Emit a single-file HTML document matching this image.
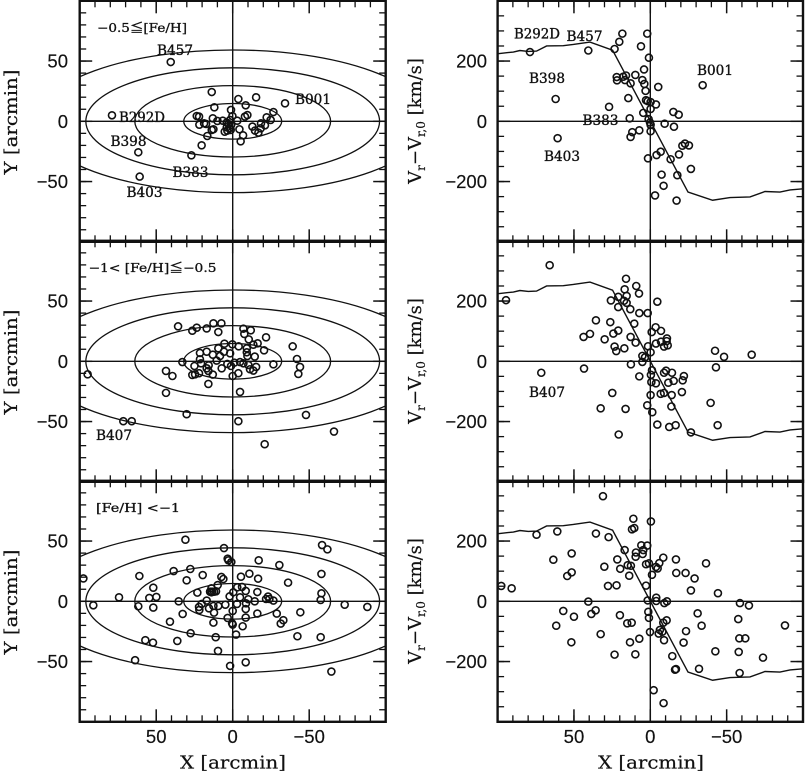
<!DOCTYPE html>
<html lang="en">
<head>
<meta charset="utf-8">
<title>Globular cluster positions and velocities</title>
<style>
html,body{margin:0;padding:0;background:#fff;}
svg{display:block;}
.tick-label{font-family:"Liberation Sans",sans-serif;font-size:18.5px;fill:#111;stroke:#111;stroke-width:.15px;}
.axis-title{font-family:"DejaVu Serif","Liberation Serif",serif;font-size:18px;fill:#111;stroke:#111;stroke-width:.2px;}
.note{font-family:"DejaVu Serif","Liberation Serif",serif;font-size:13.5px;fill:#111;stroke:#111;stroke-width:.35px;}
.bin{font-family:"DejaVu Serif","Liberation Serif","Noto Sans CJK JP",serif;font-size:12px;fill:#111;stroke:#111;stroke-width:.3px;}
</style>
</head>
<body>
<svg id="chart" xmlns="http://www.w3.org/2000/svg" width="805" height="774" viewBox="0 0 805 774">
<rect width="805" height="774" fill="#fff"/>
<g id="marks"></g>

<text class="axis-title" transform="translate(17,122) rotate(-90)" text-anchor="middle" textLength="105" lengthAdjust="spacingAndGlyphs">Y [arcmin]</text>
<text class="axis-title" transform="translate(17,362) rotate(-90)" text-anchor="middle" textLength="105" lengthAdjust="spacingAndGlyphs">Y [arcmin]</text>
<text class="axis-title" transform="translate(17,602) rotate(-90)" text-anchor="middle" textLength="105" lengthAdjust="spacingAndGlyphs">Y [arcmin]</text>
<text class="axis-title" x="233" y="768.5" text-anchor="middle" textLength="106" lengthAdjust="spacingAndGlyphs">X [arcmin]</text>
<text class="axis-title" x="651" y="768.5" text-anchor="middle" textLength="106" lengthAdjust="spacingAndGlyphs">X [arcmin]</text>

<text class="axis-title" transform="translate(421,121) rotate(-90)" text-anchor="middle">V<tspan font-size="12" dy="4">r</tspan><tspan dy="-4">−V</tspan><tspan font-size="12" dy="4">r,0</tspan><tspan dy="-4"> [km/s]</tspan></text>
<text class="axis-title" transform="translate(421,361) rotate(-90)" text-anchor="middle">V<tspan font-size="12" dy="4">r</tspan><tspan dy="-4">−V</tspan><tspan font-size="12" dy="4">r,0</tspan><tspan dy="-4"> [km/s]</tspan></text>
<text class="axis-title" transform="translate(421,601) rotate(-90)" text-anchor="middle">V<tspan font-size="12" dy="4">r</tspan><tspan dy="-4">−V</tspan><tspan font-size="12" dy="4">r,0</tspan><tspan dy="-4"> [km/s]</tspan></text>

<text class="bin" x="97" y="32" textLength="90" lengthAdjust="spacingAndGlyphs">−0.5≦[Fe/H]</text>
<text class="bin" x="88.5" y="272" textLength="128" lengthAdjust="spacingAndGlyphs">−1&lt; [Fe/H]≦−0.5</text>
<text class="bin" x="96" y="512" textLength="84" lengthAdjust="spacingAndGlyphs">[Fe/H] &lt;−1</text>

<text class="note" x="157" y="55" textLength="36" lengthAdjust="spacingAndGlyphs">B457</text>
<text class="note" x="295" y="104" textLength="36" lengthAdjust="spacingAndGlyphs">B001</text>
<text class="note" x="119" y="122" textLength="46" lengthAdjust="spacingAndGlyphs">B292D</text>
<text class="note" x="110.5" y="146" textLength="36" lengthAdjust="spacingAndGlyphs">B398</text>
<text class="note" x="172.5" y="177" textLength="36" lengthAdjust="spacingAndGlyphs">B383</text>
<text class="note" x="126.5" y="197" textLength="36" lengthAdjust="spacingAndGlyphs">B403</text>
<text class="note" x="514" y="38.5" textLength="46" lengthAdjust="spacingAndGlyphs">B292D</text>
<text class="note" x="566.5" y="41" textLength="36" lengthAdjust="spacingAndGlyphs">B457</text>
<text class="note" x="529" y="83" textLength="36" lengthAdjust="spacingAndGlyphs">B398</text>
<text class="note" x="697" y="75" textLength="36" lengthAdjust="spacingAndGlyphs">B001</text>
<text class="note" x="582.5" y="125" textLength="36" lengthAdjust="spacingAndGlyphs">B383</text>
<text class="note" x="544" y="161" textLength="36" lengthAdjust="spacingAndGlyphs">B403</text>
<text class="note" x="96" y="440" textLength="36" lengthAdjust="spacingAndGlyphs">B407</text>
<text class="note" x="529" y="397" textLength="36" lengthAdjust="spacingAndGlyphs">B407</text>
</svg>

<script>
// ---- axis tick values ----
const xTickValues = [50, 0, -50];
const yTickValues = [50, 0, -50];
const velocityTickValues = [200, 0, -200];
const xTickLabels = ["50", "0", "−50"];
const yTickLabels = ["50", "0", "−50"];
const velocityTickLabels = ["200", "0", "−200"];

// ---- contour ellipses: semi-major axes in arcmin ----
const ellipseMajorAxes = [32, 64, 96, 128];
const ellipseAxisRatio = 0.4625;

// ---- rotation curve ----
const curveX = [105, 98.9, 89.7, 85.4, 79.9, 74.5, 67.9, 57, 50.4, 39.5, 24.7, -24.7, -40.8, -52.2, -65.3, -75.1, -84.9, -91.5, -100];
const curveV = [224, 225, 230, 235, 232, 233, 250, 251, 255, 263, 236, -235, -262, -253, -251, -233, -235, -228, -224];

// ---- [Fe/H] >= -0.5 : sky positions ----
const richSkyX = [40.5,-34.2,-15.3,-3.7,-8.5,13.7,12,1.1,-26.6,78.9,-9.6,-8,0.2,23.5,22,13,21.8,18.7,17.4,10,6.5,3.9,1.7,2.8,1,3.9,2.2,5.2,3.5,1.3,12.6,13.7,16.6,20.3,27,61.7,60.8,-3,-4.4,-6.8,-5.2,-12.9,-14.6,-16.8,-18.5,-18.3,-21.1,-22.2,-24.8];
const richSkyY = [49.2,14.9,19.9,18.5,13.3,24.3,11.6,9.4,7.7,5,5.2,3.9,4.4,4.4,3.9,2.5,-2.8,-1.7,-2.2,0.3,0.5,-1,1.1,-2.2,-3,-5,-5.8,-8.6,-7.7,-7.2,-6.6,-7.2,-12.2,-19.9,-28.2,-25.7,-45.9,0.5,-6.6,-11.6,-16.6,-4.4,-7.7,-9.4,-1.7,-5.8,-3.3,3.3,1.1];
// ---- [Fe/H] >= -0.5 : velocities ----
const richVelX = [78.8,40.6,18.3,20.3,2,6.1,23.4,0.9,4.1,22,21.8,17.7,15.9,16.6,9.8,12.9,5.2,3.9,3.1,-5.2,14.4,2.8,1.7,-0.2,-3.7,27,-0.2,4.6,13.5,1.1,0.2,-0.2,-0.2,62,60.7,-15.1,-18.6,-9.4,-15.5,7.2,11.8,12.9,-21,-22.7,-25.3,-6.8,-4.1,-18.8,1.5,-13.3,-26.6,-7.4,-17.7,-8.7,-3.1,-17.2,-34.3];
const richVelV = [230,235,291,264,291,249,240,211,172,147,136,148,152,137,154,126,137,124,101,114,77,70,67,64,56,48,41,28,10,7,-4,-12,-33,74,-56,31,22,-8,-18,-30,-36,-52,-81,-74,-80,-101,-112,-110,-123,-126,-158,-177,-179,-214,-246,-263,120];

// ---- -1 < [Fe/H] < -0.5 : sky positions ----
const midSkyX = [94.8,71.5,66,43.6,39.4,43.6,30.1,35.7,26.4,23.5,17,12.6,7.4,9.4,32.9,-7,-11.8,-7.6,-10.5,-21.8,-13.5,-16.3,-20.5,-39.2,-42,-44,-42.9,-26.6,5.4,0.2,-3.9,9.4,5.7,1.7,-9.2,-9.2,-9.6,-14.4,21.4,17,13,8.3,10.5,21.4,20.7,25,15.7,17,15.9,22,24.6,26.4,13,15.9,7.2,3.5,1.1,-1.1,-4.8,-7,-10.2,-11.3,-15.3,-13.5,-3.7,0,-4.8,-3.7,-47.9,-66.2,-20.9];
const midSkyY = [-10.8,-49.7,-49.7,-8,-12.2,-26.2,-43.9,29,25.4,27.9,27.3,31.5,31.5,24.3,-0.6,27.1,25.7,22.7,18.2,19.9,13.8,14.9,9.1,12.4,1.9,-4.7,-10.5,-2.5,14.6,14.1,12.4,10.8,8,6.6,10.8,7.5,4.4,3.9,6.9,8,5.5,4.4,0.6,1.7,-1.7,-3.9,-3.3,-5.8,-8,-9.9,-10.8,-11.3,-11,-18.8,-5.8,-2.2,-3.9,-1.1,-0.6,-1.7,-3,-6.6,-4.7,-7.7,-9.9,-12.2,-25.4,-49.7,-44.5,-58.3,-68.8];
// ---- -1 < [Fe/H] < -0.5 : velocities ----
const midVelX = [65.9,94.5,15.9,9.2,16.8,7.4,15.5,21,25.8,17.2,15.5,21,13.1,7.2,1.7,-4.6,35.6,26.2,10.5,-3.5,-0.9,-7,39.5,43.7,24.2,21,29.9,12.9,9.6,-10.9,-10.7,-7,-3.7,-9,-11.4,1.5,23.4,22.3,17,-0.2,5.2,3.5,5.2,12.7,43.4,71.4,-42.4,-48.3,-66.4,-43,-1.1,-0.4,7.2,-10.3,-9,-14.2,-22,-21.2,-15.3,-11.8,-0.7,-3.7,-0.2,-6.8,-9,-14,-20.7,24.9,-39.5,2,-1.3,-13.8,32.5,16.2,-4.6,-12.4,-16.6,-44.1,-26.6,20.7];
const midVelV = [319,203,274,250,239,225,217,214,202,201,194,180,173,160,160,198,136,130,125,113,97,101,91,81,92,102,73,81,62,76,67,65,59,49,53,50,49,34,43,30,18,13,-2,-10,-24,-38,35,15,22,-20,-30,-45,-50,-31,-38,-38,-49,-63,-65,-71,-69,-73,-112,-108,-105,-112,-102,-105,-138,-146,-169,-150,-156,-158,-210,-218,-212,-212,-236,-243];

// ---- [Fe/H] < -1 : sky positions ----
const poorSkyX = [97.6,91.1,74.3,61,61.7,63.8,51.9,54.5,49.9,51.9,57.1,52.1,36.2,41,32.7,35.3,38.6,27.7,30.1,30.9,19.6,7.4,6.1,27.5,11.1,9.6,5.7,3.3,2.8,0.9,-58.4,-61.9,-17,-30.5,-58,-36.2,-16.6,-10.9,-5.4,-58,-57.5,-73.2,-88,-44.2,-28.8,-33.1,-31.4,-42.3,-57.5,-64.5,-8.5,1.7,-2.2,-16.1,-6.5,0.4,0,12.6,3.3,-8.5,12.2,21.8,22,17,20.3,15.5,12.6,9.4,4.8,0,-8.5,-2.8,-8.7,-10.2,-14.4,23.1,13.9,14.8,13.5,12.2,10.9,13.9,9.8,2,-0.4,-3,-6.1,-8.5,-16.1,-4.8,-23.1,-21.8,-24,-26.6];
const poorSkyY = [19,-3.3,3.3,21,-4.1,-48.9,11.3,2.8,3.6,-5.2,-32.3,-34.3,-32.9,-16.9,-10.5,0,25.1,26.8,17.4,51.1,21.8,20.2,18.5,-26.5,-29.8,-41.2,44.2,35.4,34,32.6,46.7,43.1,34,30.1,22.7,15.5,18.8,22.9,20.4,6.6,1.1,-2.8,-4.7,-9.1,-10.2,-15.7,-18.5,-29,-29.8,-58.3,-50.6,-53.6,-27.6,-10.2,-20.7,-18.2,-19.3,-17.7,-13.8,-13.5,-9.4,-7.2,-4.7,0.6,-2.2,-5.8,-3.9,-3.9,-2.8,-8,-6.4,-2.2,-1.7,1.7,0,7.2,10.8,8,8,8,8.3,7.5,13.5,4.1,7.5,11.6,11.9,8.6,7.7,3.3,3.9,1.9,1.9,0.6];
// ---- [Fe/H] < -1 : velocities ----
const poorVelX = [97.6,90.8,74.5,60.9,63.5,51.5,51.5,54.4,40.6,35.8,38.6,57,50,61.6,51.7,32.5,31,35.6,27.3,30.1,27.7,22.1,21.6,19.7,16.8,11.1,12,10.5,-0.4,5.9,2,5,4.6,9.4,9.6,2.8,0.9,14.8,12.7,13.8,2.8,-8.5,-5.9,-3.7,-4.8,-1.1,-16.8,-17,-23.1,-29,-36.5,-26.6,-44.3,1.7,-3.9,-3.9,-10.9,-9.2,-58.7,-64.6,1.3,0.9,19.9,15.1,12.2,-31,-57.6,-88.2,-33.6,-10.7,-8.5,0.2,-6.3,-7.9,-5.5,-23.4,13.3,7.2,-9,-21.8,-58.3,-62.2,-57.9,-42.6,23.4,9.8,-14.4,-73.8,-16.2,-16.8,-31.9,-58.5,-2.2,-8.7];
const poorVelV = [51,43,221,232,138,159,96,84,-1,-30,-42,-32,-51,-81,-136,-109,349,225,213,115,51,53,139,108,170,274,239,243,265,186,185,157,170,162,148,123,126,120,118,85,52,145,127,114,109,88,139,94,94,76,126,36,27,3,12,1,0,-6,-6,-14,-35,-55,-46,-73,-71,-40,-59,-80,-81,-63,-71,-102,-95,-101,-107,-99,-136,-124,-129,-137,-123,-123,-168,-166,-177,-176,-182,-187,-227,-225,-224,-238,-295,-338];

// ---- layout ----
const NS = "http://www.w3.org/2000/svg";
const marks = document.getElementById("marks");
const skyCentre = 232.7, skyScale = 1.53;
const velCentre = 650.3, velScale = 1.527;
const rowStart = 121.3, rowPitch = 240, rowHalf = 120.5;
const yPerArcmin = rowHalf / 100, yPerKms = rowHalf / 400;
const ink = "#111";

function rowCentre(r) { return rowStart + r * rowPitch; }
function skyXPos(v) { return skyCentre - v * skyScale; }
function velXPos(v) { return velCentre - v * velScale; }
function skyYPos(r, v) { return rowCentre(r) - v * yPerArcmin; }
function velYPos(r, v) { return rowCentre(r) - v * yPerKms; }

function shape(tag, attrs, parent) {
  const el = document.createElementNS(NS, tag);
  for (const k in attrs) el.setAttribute(k, attrs[k]);
  (parent || marks).appendChild(el);
  return el;
}

function segment(x1, y1, x2, y2, w, parent, name) {
  const el = shape("line", { x1: x1, y1: y1, x2: x2, y2: y2, stroke: ink, "stroke-width": w }, parent);
  
  
  return el;
}

function tickLabel(x, y, anchor, text, parent) {
  const el = shape("text", { x: x, y: y, "text-anchor": anchor, "class": "tick-label" }, parent);
  el.textContent = text;
  
  
  return el;
}

function drawFrame(g, toX, toY, minorX, minorY, majorX, majorY, showXLabels, xLabels, yLabels, labelRight) {
  const left = toX(100), right = toX(-100), top = toY(100 * minorY.scale), bottom = toY(-100 * minorY.scale);
  const minorLen = 6.5, majorLen = 12.5;
  // zero lines
  segment(toX(0), top, toX(0), bottom, 1.4, g, 'zero-line-vertical');
  segment(left, toY(0), right, toY(0), 1.4, g, 'zero-line-horizontal');
  // minor ticks
  for (let v = -100 + minorX; v < 100; v += minorX) {
    segment(toX(v), top, toX(v), top + minorLen, 1.3, g, 'x-minor-tick-top');
    segment(toX(v), bottom, toX(v), bottom - minorLen, 1.3, g, 'x-minor-tick-bottom');
  }
  const yMax = 100 * minorY.scale;
  for (let v = -yMax + minorY.step; v < yMax; v += minorY.step) {
    segment(left, toY(v), left + minorLen, toY(v), 1.3, g, 'y-minor-tick-left');
    segment(right, toY(v), right - minorLen, toY(v), 1.3, g, 'y-minor-tick-right');
  }
  // major ticks and labels
  majorX.forEach(function (v, i) {
    segment(toX(v), top, toX(v), top + majorLen, 1.5, g, 'x-major-tick-top');
    segment(toX(v), bottom, toX(v), bottom - majorLen, 1.5, g, 'x-major-tick-bottom');
    if (showXLabels) tickLabel(toX(v), 743, "middle", xLabels[i], g);
  });
  majorY.forEach(function (v, i) {
    segment(left, toY(v), left + majorLen, toY(v), 1.5, g, 'y-major-tick-left');
    segment(right, toY(v), right - majorLen, toY(v), 1.5, g, 'y-major-tick-right');
    tickLabel(labelRight, toY(v) + 6.5, "end", yLabels[i], g);
  });
  const box = shape("rect", { x: left, y: top, width: right - left, height: bottom - top, fill: "none", stroke: ink, "stroke-width": 2.4 }, g);
  
  
}

function drawPoints(g, xs, ys, toX, toY) {
  const n = Math.min(xs.length, ys.length);
  for (let i = 0; i < n; i++) {
    const c = shape("circle", { cx: toX(xs[i]), cy: toY(ys[i]), r: 3.5, fill: "none", stroke: ink, "stroke-width": 1.6 }, g);
    
    
  }
}

function drawClip(id, x, y, w, h) {
  const defs = shape("defs", {});
  const cp = shape("clipPath", { id: id }, defs);
  shape("rect", { x: x, y: y, width: w, height: h }, cp);
}

function drawSkyPanel(r, name, xs, ys) {
  const g = shape("g", {});
  
  
  const toX = skyXPos;
  const toY = function (v) { return skyYPos(r, v); };
  const clipId = "clip-sky-" + r;
  drawClip(clipId, toX(100), toY(100), toX(-100) - toX(100), toY(-100) - toY(100));
  const eg = shape("g", { "clip-path": "url(#" + clipId + ")" }, g);
  ellipseMajorAxes.forEach(function (a) {
    const e = shape("ellipse", {
      cx: toX(0), cy: toY(0),
      rx: a * skyScale, ry: a * ellipseAxisRatio * yPerArcmin,
      fill: "none", stroke: ink, "stroke-width": 1.3
    }, eg);
    
    
  });
  drawPoints(g, xs, ys, toX, toY);
  drawFrame(g, toX, toY, 10, { step: 10, scale: 1 }, xTickValues, yTickValues, r === 2, xTickLabels, yTickLabels, 68);
}

function drawVelocityPanel(r, name, xs, vs) {
  const g = shape("g", {});
  
  
  const toX = velXPos;
  const toY = function (v) { return velYPos(r, v); };
  const clipId = "clip-vel-" + r;
  drawClip(clipId, toX(100), toY(400), toX(-100) - toX(100), toY(-400) - toY(400));
  const pts = curveX.map(function (x, i) { return toX(x) + "," + toY(curveV[i]); }).join(" ");
  const line = shape("polyline", { points: pts, fill: "none", stroke: ink, "stroke-width": 1.4, "clip-path": "url(#" + clipId + ")" }, g);
  
  
  drawPoints(g, xs, vs, toX, toY);
  drawFrame(g, toX, toY, 10, { step: 50, scale: 4 }, xTickValues, velocityTickValues, r === 2, xTickLabels, velocityTickLabels, 487);
}

drawSkyPanel(0, 'sky-panel-metal-rich', richSkyX, richSkyY);
drawSkyPanel(1, 'sky-panel-intermediate', midSkyX, midSkyY);
drawSkyPanel(2, 'sky-panel-metal-poor', poorSkyX, poorSkyY);
drawVelocityPanel(0, 'velocity-panel-metal-rich', richVelX, richVelV);
drawVelocityPanel(1, 'velocity-panel-intermediate', midVelX, midVelV);
drawVelocityPanel(2, 'velocity-panel-metal-poor', poorVelX, poorVelV);
</script>
</body>
</html>
